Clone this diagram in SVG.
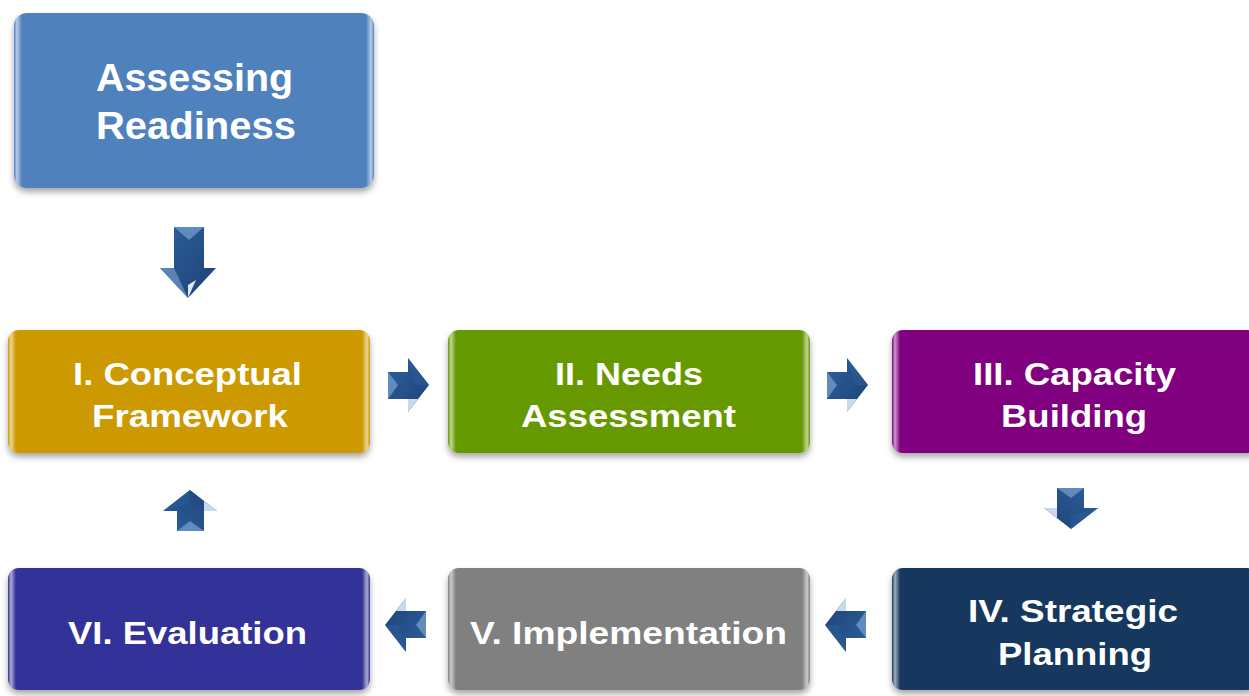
<svg xmlns="http://www.w3.org/2000/svg" width="1249" height="696" viewBox="0 0 1249 696">
<defs>
<filter id="sh" x="-10%" y="-10%" width="120%" height="130%">
<feDropShadow dx="0" dy="4" stdDeviation="3" flood-color="#000" flood-opacity="0.35"/>
</filter>
<linearGradient id="edge" x1="0" y1="0" x2="1" y2="0">
<stop offset="0" stop-color="#fff" stop-opacity="0"/>
<stop offset="0.008" stop-color="#fff" stop-opacity="0.6"/>
<stop offset="0.022" stop-color="#fff" stop-opacity="0"/>
<stop offset="0.978" stop-color="#fff" stop-opacity="0"/>
<stop offset="0.992" stop-color="#fff" stop-opacity="0.6"/>
<stop offset="1" stop-color="#fff" stop-opacity="0"/>
</linearGradient>
<linearGradient id="arr" x1="0" y1="0" x2="1" y2="1">
<stop offset="0" stop-color="#2f5f9e"/>
<stop offset="1" stop-color="#1b4274"/>
</linearGradient>
<g id="arrowR">
<path d="M0,14 L20,14 L20,0 L41,27 L20,54 L20,41 L0,41 Z" fill="url(#arr)"/>
<path d="M0,14 L10,27 L0,41 Z" fill="#6f98c8" opacity="0.8"/>
<path d="M20,41 L30,41 L20,54 Z" fill="#dce9f7" opacity="0.9"/>
<path d="M20,0 L41,27 L28,27 Z" fill="#2c5b97" opacity="0.6"/>
</g>
</defs>
<style>
.box{filter:url(#sh)}
.t{font-family:"Liberation Sans",Arial,sans-serif;font-weight:bold;fill:#fff;text-anchor:start}
</style>

<g id="connectors">
<g id="a-down1">
<path d="M174,227 L204,227 L204,268 L216,268 L188,298 L160,268 L174,268 Z" fill="url(#arr)"/>
<path d="M174,227 L204,227 L189,240 Z" fill="#6f98c8" opacity="0.8"/>
<path d="M160,268 L174,268 L188,298 Z" fill="#6f98c8" opacity="0.7"/>
<path d="M188,285 L196,280 L188,298 Z" fill="#dce9f7"/>
</g>
<use href="#arrowR" transform="translate(388,358)"/>
<use href="#arrowR" transform="translate(827,358)"/>
<use href="#arrowR" transform="translate(1098,488) rotate(90)"/>
<use href="#arrowR" transform="translate(866,652) rotate(180)"/>
<use href="#arrowR" transform="translate(426,652) rotate(180)"/>
<use href="#arrowR" transform="translate(163,531) rotate(-90)"/>
</g>

<g id="n0">
<rect class="box" x="14" y="13" width="360" height="175" rx="13" fill="#4f81bd"/>
<rect x="14" y="13" width="360" height="175" rx="13" fill="url(#edge)"/>
<text class="t" x="96" y="91" font-size="38" textLength="197" lengthAdjust="spacingAndGlyphs">Assessing</text>
<text class="t" x="96" y="139" font-size="38" textLength="200" lengthAdjust="spacingAndGlyphs">Readiness</text>
</g>

<g id="n1">
<rect class="box" x="8" y="330" width="362" height="123" rx="11" fill="#cc9900"/>
<rect x="8" y="330" width="362" height="123" rx="11" fill="url(#edge)"/>
<text class="t" x="73" y="385" font-size="32" textLength="229" lengthAdjust="spacingAndGlyphs">I. Conceptual</text>
<text class="t" x="92" y="427" font-size="32" textLength="196" lengthAdjust="spacingAndGlyphs">Framework</text>
</g>

<g id="n2">
<rect class="box" x="448" y="330" width="362" height="123" rx="11" fill="#669900"/>
<rect x="448" y="330" width="362" height="123" rx="11" fill="url(#edge)"/>
<text class="t" x="555" y="385" font-size="32" textLength="148" lengthAdjust="spacingAndGlyphs">II. Needs</text>
<text class="t" x="521" y="427" font-size="32" textLength="215" lengthAdjust="spacingAndGlyphs">Assessment</text>
</g>

<g id="n3">
<rect class="box" x="892" y="330" width="366" height="123" rx="11" fill="#800080"/>
<rect x="892" y="330" width="366" height="123" rx="11" fill="url(#edge)"/>
<text class="t" x="973" y="385" font-size="32" textLength="203" lengthAdjust="spacingAndGlyphs">III. Capacity</text>
<text class="t" x="1001" y="427" font-size="32" textLength="146" lengthAdjust="spacingAndGlyphs">Building</text>
</g>

<g id="n4">
<rect class="box" x="892" y="568" width="366" height="122" rx="11" fill="#17375e"/>
<rect x="892" y="568" width="366" height="122" rx="11" fill="url(#edge)"/>
<text class="t" x="968" y="622" font-size="32" textLength="210" lengthAdjust="spacingAndGlyphs">IV. Strategic</text>
<text class="t" x="998" y="665" font-size="32" textLength="154" lengthAdjust="spacingAndGlyphs">Planning</text>
</g>

<g id="n5">
<rect class="box" x="448" y="568" width="362" height="122" rx="11" fill="#808080"/>
<rect x="448" y="568" width="362" height="122" rx="11" fill="url(#edge)"/>
<text class="t" x="470" y="644" font-size="32" textLength="317" lengthAdjust="spacingAndGlyphs">V. Implementation</text>
</g>

<g id="n6">
<rect class="box" x="8" y="568" width="362" height="122" rx="11" fill="#333399"/>
<rect x="8" y="568" width="362" height="122" rx="11" fill="url(#edge)"/>
<text class="t" x="68" y="644" font-size="32" textLength="239" lengthAdjust="spacingAndGlyphs">VI. Evaluation</text>
</g>
</svg>
